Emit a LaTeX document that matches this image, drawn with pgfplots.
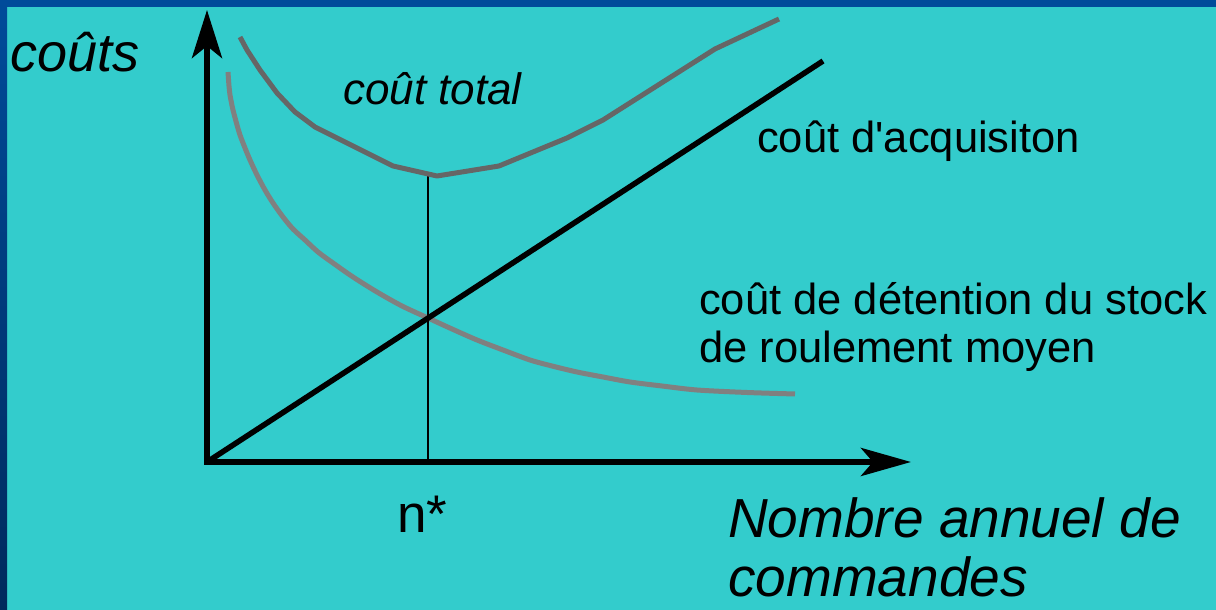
\documentclass[border=0pt]{standalone}
\usepackage{fontspec}
\setmainfont{Liberation Sans}[Ligatures=TeXOff]
\usepackage{pgfplots}
\pgfplotsset{compat=1.18}
\usetikzlibrary{arrows.meta}
\definecolor{bgcyan}{HTML}{33CCCC}
\definecolor{bordertop}{HTML}{004B9A}
\definecolor{borderbot}{HTML}{002A5C}
\definecolor{totgray}{HTML}{666666}
\definecolor{holdgray}{HTML}{808080}
\begin{document}
\begin{tikzpicture}
\begin{axis}[
  scale only axis, width=1216pt, height=610pt,
  xmin=-207, xmax=1009, ymin=-148, ymax=462,
  hide axis, clip=false,
]
% background
\fill[bgcyan] (axis cs:-207,-148) rectangle (axis cs:1009,462);
\fill[bordertop] (axis cs:-207,455) rectangle (axis cs:1009,462);
\shade[top color=bordertop, bottom color=borderbot] (axis cs:-207,-148) rectangle (axis cs:-200,462);
% axes
\draw[line width=6pt, line join=miter, {Stealth[length=48pt,width=30pt,inset=12pt]}-{Stealth[length=50pt,width=28pt,inset=12pt]}]
  (axis cs:0,452) -- (axis cs:0,0) -- (axis cs:704,0);
% holding cost
\addplot[holdgray, line width=5pt, smooth] coordinates {
 (21,390) (22,376) (23,367) (24.5,359) (26,352) (30,337) (33,327) (38,314) (43,302)
 (50,287) (58,272) (66,259) (76,245) (86,233) (98,222) (111,210) (126,199)
 (146,185) (170,170) (195,156) (221,144) (245,133) (270,122) (296,112) (323,102)
 (345,96) (370,90) (396,85) (423,80) (455,76) (490,72) (540,69.5) (588,68)};
% acquisition cost
\addplot[black, line width=5.5pt] coordinates {(0,0) (616,401)};
% n* line
\addplot[black, line width=2.5pt] coordinates {(221,0) (221,286)};
% total cost
\addplot[totgray, line width=5pt, line join=round] coordinates {
 (33,425) (40,412) (53,392) (70,369) (88,350) (108,335) (186,296) (230,286)
 (292,296) (360,324) (396,342) (508,413) (572,443)};
% texts
\node[anchor=base west, inner sep=0pt, font=\fontsize{54}{60}\selectfont\itshape] at (axis cs:-197,390) {coûts};
\node[anchor=base west, inner sep=0pt, font=\fontsize{44}{50}\selectfont\itshape] at (axis cs:136,357) {coût total};
\node[anchor=base west, inner sep=0pt, font=\fontsize{43.5}{48}\selectfont] at (axis cs:550,309) {coût d'acquisiton};
\node[anchor=base west, inner sep=0pt, font=\fontsize{43.5}{48}\selectfont] at (axis cs:492,147) {coût de détention du stock};
\node[anchor=base west, inner sep=0pt, font=\fontsize{43.5}{48}\selectfont] at (axis cs:492,99) {de roulement moyen};
\node[anchor=base west, inner sep=0pt, font=\fontsize{53}{58}\selectfont] at (axis cs:190,-71) {n*};
\node[anchor=base west, inner sep=0pt, font=\fontsize{55}{59}\selectfont\itshape] at (axis cs:521,-76) {Nombre annuel de};
\node[anchor=base west, inner sep=0pt, font=\fontsize{55}{59}\selectfont\itshape] at (axis cs:521,-135) {commandes};
\end{axis}
\end{tikzpicture}
\end{document}
